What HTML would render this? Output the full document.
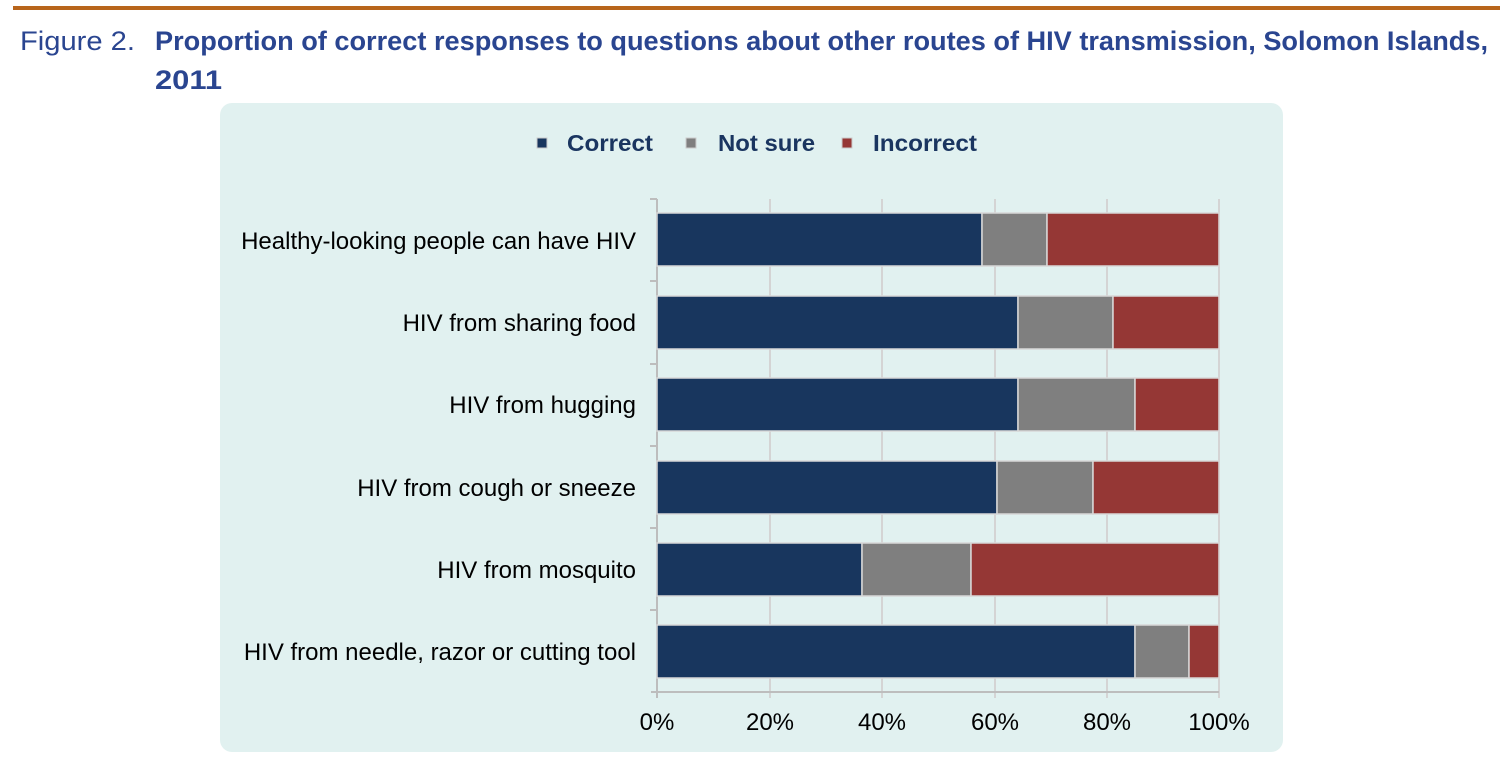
<!DOCTYPE html>
<html><head><meta charset="utf-8"><style>
html,body{margin:0;padding:0;background:#fff;}
svg{display:block;}
</style></head><body>
<svg width="1500" height="764" xmlns="http://www.w3.org/2000/svg" font-family="Liberation Sans, sans-serif">
<rect x="13" y="6" width="1487" height="4" fill="#b8651b"/>
<text x="20" y="50" font-size="27" fill="#2a4590" textLength="115" lengthAdjust="spacingAndGlyphs">Figure 2.</text>
<text x="155" y="50" font-size="27" font-weight="bold" fill="#2a4590" textLength="1333" lengthAdjust="spacingAndGlyphs">Proportion of correct responses to questions about other routes of HIV transmission, Solomon Islands,</text>
<text x="155" y="89" font-size="27" font-weight="bold" fill="#2a4590" textLength="67" lengthAdjust="spacingAndGlyphs">2011</text>
<rect x="220" y="103" width="1063" height="649" rx="12" fill="#e1f1f0"/>
<g font-size="23.5" font-weight="bold" fill="#1a3560">
<rect x="537" y="138" width="10" height="10" fill="#18365e" stroke="#ccc"/>
<text x="567" y="151" textLength="86" lengthAdjust="spacingAndGlyphs">Correct</text>
<rect x="686" y="138" width="10" height="10" fill="#7f7f7f" stroke="#ccc"/>
<text x="718" y="151" textLength="97" lengthAdjust="spacingAndGlyphs">Not sure</text>
<rect x="842" y="138" width="10" height="10" fill="#953735" stroke="#ccc"/>
<text x="873" y="151" textLength="104" lengthAdjust="spacingAndGlyphs">Incorrect</text>
</g>
<g stroke="#d4d4d4" stroke-width="2">
<line x1="770" y1="199" x2="770" y2="698"/>
<line x1="882" y1="199" x2="882" y2="698"/>
<line x1="995" y1="199" x2="995" y2="698"/>
<line x1="1107" y1="199" x2="1107" y2="698"/>
<line x1="1219" y1="199" x2="1219" y2="698"/>
</g>
<g stroke="#bdbdbd" stroke-width="2">
<line x1="657" y1="199" x2="657" y2="698"/>
<line x1="651" y1="692" x2="1219" y2="692"/>
<line x1="650" y1="199" x2="657" y2="199"/>
<line x1="650" y1="281" x2="657" y2="281"/>
<line x1="650" y1="364" x2="657" y2="364"/>
<line x1="650" y1="446" x2="657" y2="446"/>
<line x1="650" y1="528" x2="657" y2="528"/>
<line x1="650" y1="610" x2="657" y2="610"/>
</g>
<g stroke="#d8d8d8" stroke-width="1.5">
<rect x="657" y="213" width="325" height="53" fill="#18365e"/><rect x="982" y="213" width="65" height="53" fill="#7f7f7f"/><rect x="1047" y="213" width="172" height="53" fill="#953735"/>
<rect x="657" y="296" width="361" height="53" fill="#18365e"/><rect x="1018" y="296" width="95" height="53" fill="#7f7f7f"/><rect x="1113" y="296" width="106" height="53" fill="#953735"/>
<rect x="657" y="378" width="361" height="53" fill="#18365e"/><rect x="1018" y="378" width="117" height="53" fill="#7f7f7f"/><rect x="1135" y="378" width="84" height="53" fill="#953735"/>
<rect x="657" y="461" width="340" height="53" fill="#18365e"/><rect x="997" y="461" width="96" height="53" fill="#7f7f7f"/><rect x="1093" y="461" width="126" height="53" fill="#953735"/>
<rect x="657" y="543" width="205" height="53" fill="#18365e"/><rect x="862" y="543" width="109" height="53" fill="#7f7f7f"/><rect x="971" y="543" width="248" height="53" fill="#953735"/>
<rect x="657" y="625" width="478" height="53" fill="#18365e"/><rect x="1135" y="625" width="54" height="53" fill="#7f7f7f"/><rect x="1189" y="625" width="30" height="53" fill="#953735"/>
</g>
<g font-size="24" fill="#000" text-anchor="end">
<text x="636" y="249">Healthy-looking people can have HIV</text>
<text x="636" y="331">HIV from sharing food</text>
<text x="636" y="413">HIV from hugging</text>
<text x="636" y="496">HIV from cough or sneeze</text>
<text x="636" y="578">HIV from mosquito</text>
<text x="636" y="660">HIV from needle, razor or cutting tool</text>
</g>
<g font-size="24" fill="#000" text-anchor="middle">
<text x="657" y="730">0%</text>
<text x="770" y="730">20%</text>
<text x="882" y="730">40%</text>
<text x="995" y="730">60%</text>
<text x="1107" y="730">80%</text>
<text x="1219" y="730">100%</text>
</g>
</svg>
</body></html>
